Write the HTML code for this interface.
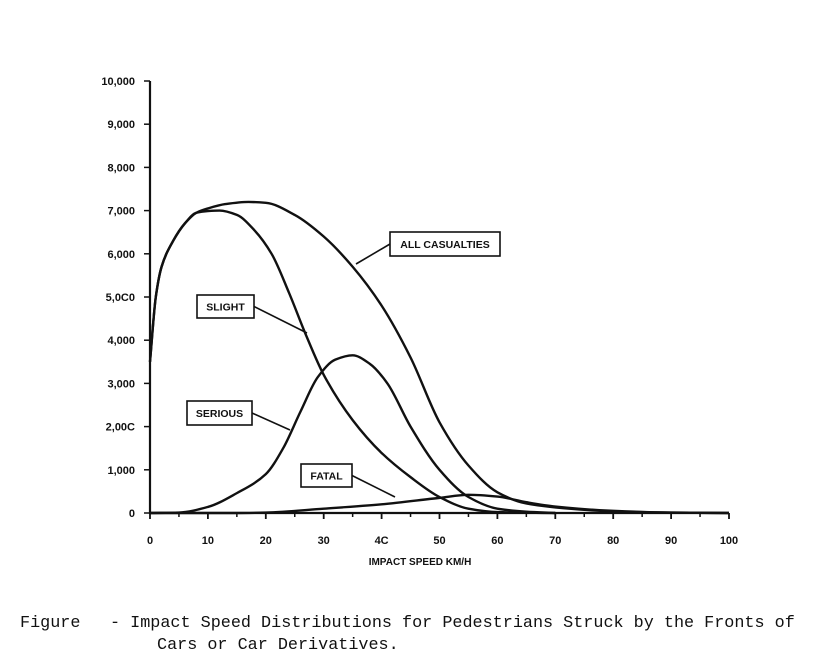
<!DOCTYPE html>
<html><head><meta charset="utf-8"><style>
body{margin:0;background:#fff;}
svg{display:block;}
.t{font-family:"Liberation Sans",sans-serif;font-weight:bold;font-size:11px;fill:#111;}
.cap{font-family:"Liberation Mono",monospace;font-size:16.8px;fill:#111;}
</style></head><body>
<svg width="822" height="668" viewBox="0 0 822 668">
<g id="axes"></g><g id="curves"></g><g id="labels"></g>
<text class="cap" x="20" y="627">Figure</text>
<text class="cap" x="110" y="627">- Impact Speed Distributions for Pedestrians Struck by the Fronts of</text>
<text class="cap" x="157" y="649">Cars or Car Derivatives.</text>
</svg>
<script>
const xTicks=[0,10,20,30,40,50,60,70,80,90,100];
const yTicks=[0,1000,2000,3000,4000,5000,6000,7000,8000,9000,10000];
const yTickLabels=["0","1,000","2,00C","3,000","4,000","5,0C0","6,000","7,000","8,000","9,000","10,000"];
const xTickLabels=["0","10","20","30","4C","50","60","70","80","90","100"];
const allSpeed=[0,1,2,4,6,8,10,13,17,20,25,30,35,40,45,50,55,60,65,70,80,90,100];
const allVal=[3500,5000,5700,6300,6700,6950,7050,7150,7200,7180,6900,6400,5700,4800,3600,2100,1100,480,220,130,40,10,0];
const slightSpeed=[0,1,2,4,6,8,10,12,15,18,21,24,27,30,35,40,45,50,55,60,70];
const slightVal=[3500,5000,5700,6300,6700,6950,6990,7000,6900,6550,6000,5100,4100,3200,2150,1390,830,370,100,20,0];
const seriousSpeed=[0,5,10,15,20,23,26,29,32,35,38,41,45,50,55,60,65,70];
const seriousVal=[0,10,140,460,900,1500,2350,3150,3550,3650,3450,3000,2000,1000,370,100,30,0];
const fatalSpeed=[0,15,20,30,40,50,55,60,65,70,80,90,100];
const fatalVal=[0,0,10,100,200,350,420,380,250,150,50,10,0];
const X=v=>150+5.79*v, Y=v=>513-0.0432*v;
const NS="http://www.w3.org/2000/svg";
function mk(tag,attrs,parent){const e=document.createElementNS(NS,tag);for(const k in attrs)e.setAttribute(k,attrs[k]);parent.appendChild(e);return e;}
const axes=document.getElementById('axes');
let ax=mk('path',{d:`M${X(0)} ${Y(10000)} V${Y(0)} H${X(100)}`,fill:'none',stroke:'#111','stroke-width':2.2},axes);


yTicks.forEach((v,i)=>{
 const l=mk('line',{x1:X(0)-6,x2:X(0),y1:Y(v),y2:Y(v),stroke:'#111','stroke-width':1.5},axes);
 
 
 const t=mk('text',{x:X(0)-15,y:Y(v)+4,'text-anchor':'end',class:'t'},axes);t.textContent=yTickLabels[i];
 
 
});
xTicks.forEach((v,i)=>{
 const l=mk('line',{x1:X(v),x2:X(v),y1:Y(0),y2:Y(0)+6,stroke:'#111','stroke-width':1.8},axes);
 
 
 if(v<100){const m=mk('line',{x1:X(v+5),x2:X(v+5),y1:Y(0),y2:Y(0)+4,stroke:'#111','stroke-width':1.5},axes);
 
 }
 const t=mk('text',{x:X(v),y:Y(0)+31,'text-anchor':'middle',class:'t'},axes);t.textContent=xTickLabels[i];
 
 
});
const xt=mk('text',{x:420,y:565,'text-anchor':'middle',class:'t',style:'font-size:10px'},axes);xt.textContent="IMPACT SPEED  KM/H";


function path(xs,ys){
 const n=xs.length,d=[],m=[];
 for(let i=0;i<n-1;i++)d.push((ys[i+1]-ys[i])/(xs[i+1]-xs[i]));
 m[0]=d[0];m[n-1]=d[n-2];
 for(let i=1;i<n-1;i++){
  if(d[i-1]*d[i]<=0)m[i]=0;
  else{const h0=xs[i]-xs[i-1],h1=xs[i+1]-xs[i],w1=2*h1+h0,w2=h1+2*h0;m[i]=(w1+w2)/(w1/d[i-1]+w2/d[i]);}
 }
 let s=`M${X(xs[0])} ${Y(ys[0])}`;
 for(let i=0;i<n-1;i++){const h=xs[i+1]-xs[i];
  s+=` C${X(xs[i]+h/3)} ${Y(ys[i]+m[i]*h/3)},${X(xs[i+1]-h/3)} ${Y(ys[i+1]-m[i+1]*h/3)},${X(xs[i+1])} ${Y(ys[i+1])}`;}
 return s;}
const cg=document.getElementById('curves');
[[allSpeed,allVal,'all-casualties-curve'],[slightSpeed,slightVal,'slight-curve'],[seriousSpeed,seriousVal,'serious-curve'],[fatalSpeed,fatalVal,'fatal-curve']].forEach(s=>{
 const e=mk('path',{d:path(s[0],s[1]),fill:'none',stroke:'#111','stroke-width':2.4},cg);
 
 
});
const lg=document.getElementById('labels');
[[390,232,110,24,'ALL CASUALTIES',356,264,'all-casualties-label'],[197,295,57,23,'SLIGHT',307,333,'slight-label'],[187,401,65,24,'SERIOUS',290,430,'serious-label'],[301,464,51,23,'FATAL',395,497,'fatal-label']].forEach(b=>{
 const g=mk('g',{},lg);
 
 
 mk('rect',{x:b[0],y:b[1],width:b[2],height:b[3],fill:'#fff',stroke:'#111','stroke-width':1.6},g);
 const t=mk('text',{x:b[0]+b[2]/2,y:b[1]+b[3]/2+4,'text-anchor':'middle',class:'t',style:'font-size:10.5px'},g);t.textContent=b[4];
 mk('line',{x1:b[0]+b[2]<b[5]?b[0]+b[2]:b[0],y1:b[1]+b[3]/2,x2:b[5],y2:b[6],stroke:'#111','stroke-width':1.6},g);
});
</script>
</body></html>
